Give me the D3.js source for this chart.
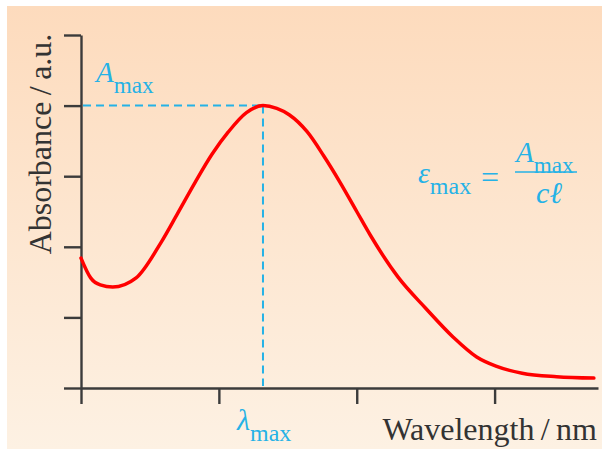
<!DOCTYPE html>
<html>
<head>
<meta charset="utf-8">
<script src="https://cdn.jsdelivr.net/npm/d3@7"></script>
<style>
  body { margin: 0; background: #fff; }
</style>
</head>
<body>
<div id="chart"></div>
<script>
// absorbance spectrum, arbitrary units
const wavelength = [0, 0.07, 0.14, 0.23, 0.40, 0.58, 0.70, 0.83, 0.95, 1.07, 1.20, 1.32, 1.42, 1.51,
                    1.64, 1.76, 1.88, 2.00, 2.10, 2.30, 2.50, 2.70, 2.87, 3.01, 3.20, 3.45, 3.72];
const absorbance = [1.84, 1.56, 1.46, 1.43, 1.56, 2.06, 2.47, 2.92, 3.31, 3.63, 3.90, 4.00, 3.96, 3.87,
                    3.63, 3.29, 2.91, 2.50, 2.16, 1.57, 1.13, 0.72, 0.44, 0.31, 0.21, 0.16, 0.14];
const xTicks = [0, 1, 2, 3];
const yTicks = [0, 1, 2, 3, 4, 5];

const W = 602, H = 455;
const axisColor = '#3b3b3b';
const cyan = '#25b2e6';
const serif = '"Liberation Serif"';

const svg = d3.select('#chart')
    .append('svg')
    .attr('width', W)
    .attr('height', H);

// peach panel
const grad = svg.append('defs').append('linearGradient')
    .attr('id', 'bg')
    .attr('x1', 0).attr('y1', 0).attr('x2', 0).attr('y2', 1);
grad.append('stop').attr('offset', '0%').attr('stop-color', '#fddbbd');
grad.append('stop').attr('offset', '100%').attr('stop-color', '#fdf1e3');

svg.append('rect')
    .attr('x', 7).attr('y', 6)
    .attr('width', W - 7).attr('height', 443)
    .attr('fill', 'url(#bg)');

const x = d3.scaleLinear().domain([0, 3.75]).range([81, 598]);
const y = d3.scaleLinear().domain([0, 5]).range([388, 35]);

// axes
const xAxis = svg.append('g')
    .attr('transform', `translate(0, ${y(0)})`)
    .call(d3.axisBottom(x).tickValues(xTicks).tickSize(16).tickSizeOuter(0).tickFormat(''));
const yAxis = svg.append('g')
    .attr('transform', `translate(${x(0)}, 0)`)
    .call(d3.axisLeft(y).tickValues(yTicks).tickSize(17).tickSizeOuter(0).tickFormat(''));

[xAxis, yAxis].forEach(g => {
    g.selectAll('path, line')
        .attr('stroke', axisColor)
        .attr('stroke-width', 2.4);
});

// peak
const iMax = d3.maxIndex(absorbance);
const lamMax = wavelength[iMax];
const aMax = absorbance[iMax];

svg.append('line')
    .attr('x1', x(0) + 2).attr('y1', y(aMax))
    .attr('x2', x(lamMax)).attr('y2', y(aMax))
    .attr('stroke', cyan).attr('stroke-width', 2)
    .attr('stroke-dasharray', '8,5');
svg.append('line')
    .attr('x1', x(lamMax)).attr('y1', y(aMax))
    .attr('x2', x(lamMax)).attr('y2', y(0) - 2)
    .attr('stroke', cyan).attr('stroke-width', 2)
    .attr('stroke-dasharray', '8,5');

// spectrum
const line = d3.line()
    .x((d, i) => x(wavelength[i]))
    .y(d => y(d))
    .curve(d3.curveMonotoneX);

svg.append('path')
    .datum(absorbance)
    .attr('d', line)
    .attr('fill', 'none')
    .attr('stroke', '#ff0000')
    .attr('stroke-width', 3.5)
    .attr('stroke-linecap', 'round');

// axis titles
svg.append('text')
    .attr('transform', `translate(51, 144) rotate(-90)`)
    .attr('text-anchor', 'middle')
    .style('font-family', serif)
    .attr('font-size', 32)
    .attr('fill', '#333')
    .text('Absorbance\u2009/\u2009a.u.');

svg.append('text')
    .attr('x', 597).attr('y', 440)
    .attr('text-anchor', 'end')
    .style('font-family', serif)
    .attr('font-size', 32)
    .attr('fill', '#333')
    .text('Wavelength\u2009/\u2009nm');

// symbol with subscript
function symbol(px, py, main, sub, size) {
    const t = svg.append('text')
        .attr('x', px).attr('y', py)
        .style('font-family', serif)
        .attr('fill', cyan)
        .attr('font-size', size);
    t.append('tspan').attr('font-style', 'italic').text(main);
    t.append('tspan').attr('font-size', size * 0.8).attr('dy', 11).text(sub);
    return t;
}

symbol(96, 82, 'A', 'max', 29);
symbol(x(lamMax) - 26, 430, '\u03bb', 'max', 30);

// epsilon_max = A_max / c l
symbol(418, 183, '\u03b5', 'max', 30);
svg.append('text')
    .attr('x', 481).attr('y', 188)
    .style('font-family', serif)
    .attr('fill', cyan).attr('font-size', 32)
    .text('=');
svg.append('line')
    .attr('x1', 515).attr('x2', 577)
    .attr('y1', 172).attr('y2', 172)
    .attr('stroke', cyan).attr('stroke-width', 1.6);
symbol(516, 162, 'A', 'max', 29);
svg.append('text')
    .attr('x', 549).attr('y', 203)
    .attr('text-anchor', 'middle')
    .style('font-family', serif)
    .attr('fill', cyan).attr('font-size', 30)
    .attr('font-style', 'italic')
    .text('c\u2113');
</script>
</body>
</html>
